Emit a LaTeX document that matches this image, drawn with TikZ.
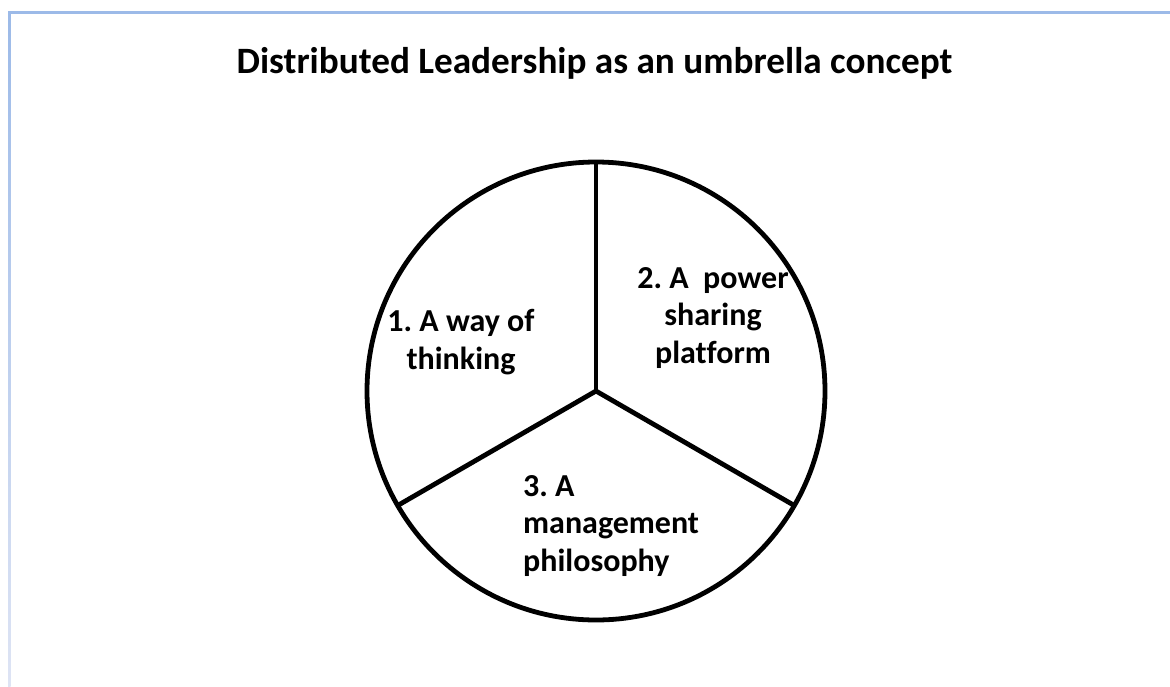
\documentclass[tikz,border=0pt]{standalone}
\usepackage{fontspec}
\setmainfont{Carlito}[Ligatures=NoCommon]
\definecolor{frameblue}{RGB}{156,186,232}
\definecolor{framefade}{RGB}{222,228,244}
\tikzset{
  pie/.style={line width=4.8pt, black},
  lbl/.style={font=\bfseries\fontsize{32}{37.5}\selectfont, inner sep=0pt, text=black},
  ttl/.style={font=\bfseries\fontsize{37.2}{42}\selectfont, inner sep=0pt, text=black}
}
\begin{document}
\frenchspacing
\begin{tikzpicture}[x=1pt,y=-1pt]
\useasboundingbox (0,0) rectangle (1170,686);
% frame
\fill[frameblue] (8,11) rectangle (1170,13.5);
\shade[top color=frameblue, bottom color=framefade] (8,11) rectangle (10.5,686);
% title
\node[ttl, anchor=base] (title) at (594.5,73) {Distributed Leadership as an umbrella concept};
% pie
\coordinate (c) at (596,391);
\draw[pie] (c) circle[radius=229];
\path (c) ++(-90:229) coordinate (top);
\path (c) ++(150:229) coordinate (ll);
\path (c) ++(30:229) coordinate (lr);
\draw[pie] (c) -- (top);
\draw[pie] (c) -- (ll);
\draw[pie] (c) -- (lr);
% labels
\node[lbl, align=center] (l1) at (461,342) {1. A way of\\thinking};
\node[lbl, align=center] (l2) at (713,318) {2. A\ \ power\\sharing\\platform};
\node[lbl, align=left, anchor=west] (l3) at (523,526) {3. A\\management\\philosophy};
\end{tikzpicture}
\end{document}
